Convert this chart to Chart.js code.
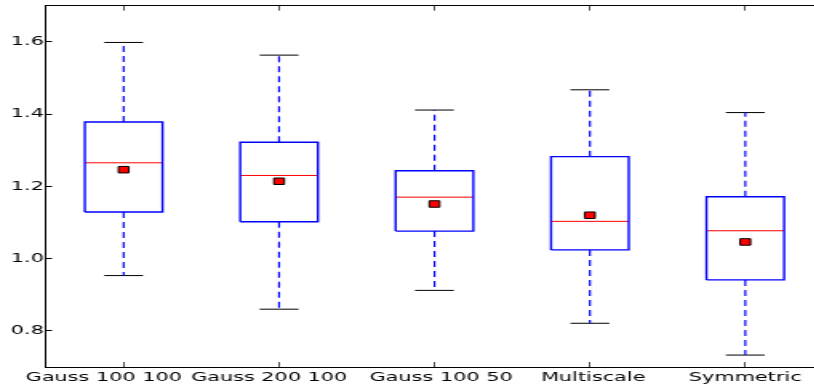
<!DOCTYPE html>
<html>
<head>
<meta charset="utf-8">
<script src="https://cdn.jsdelivr.net/npm/chart.js@4"></script>
<style>
  html, body { margin: 0; padding: 0; background: #fff; overflow: hidden; width: 814px; height: 388px; }
  /* the original picture is stretched sideways, so draw narrow and widen it */
  #wrap { width: 520px; height: 388px; transform: scaleX(1.6); transform-origin: 0 0; }
</style>
</head>
<body>
<div id="wrap"><canvas id="c" width="520" height="388"></canvas></div>
<script>
// box plot summary per method
const categories = ["Gauss 100 100", "Gauss 200 100", "Gauss 100 50", "Multiscale", "Symmetric"];
const whiskerHigh = [1.598, 1.563, 1.411, 1.467, 1.404];
const q3 = [1.378, 1.322, 1.243, 1.282, 1.171];
const median = [1.265, 1.230, 1.170, 1.103, 1.077];
const mean = [1.246, 1.214, 1.151, 1.120, 1.046];
const q1 = [1.129, 1.102, 1.076, 1.024, 0.941];
const whiskerLow = [0.953, 0.860, 0.912, 0.821, 0.733];
const yTicks = [0.8, 1.0, 1.2, 1.4, 1.6];

const BOX_HALF = 0.25, CAP_HALF = 0.125;
const BLUE = "#0000ff", RED = "#ff0000";

// helpers to turn the summary into line segments, null breaks between pieces
const gap = (x) => ({ x, y: null });
const boxPts = [], whiskPts = [], capPts = [], medPts = [];
categories.forEach((_, i) => {
  const x = i + 1;
  boxPts.push({ x: x - BOX_HALF, y: q1[i] }, { x: x + BOX_HALF, y: q1[i] }, { x: x + BOX_HALF, y: q3[i] },
    { x: x - BOX_HALF, y: q3[i] }, { x: x - BOX_HALF, y: q1[i] }, gap(x));
  whiskPts.push({ x, y: q3[i] }, { x, y: whiskerHigh[i] }, gap(x), { x, y: q1[i] }, { x, y: whiskerLow[i] }, gap(x));
  capPts.push({ x: x - CAP_HALF, y: whiskerHigh[i] }, { x: x + CAP_HALF, y: whiskerHigh[i] }, gap(x),
    { x: x - CAP_HALF, y: whiskerLow[i] }, { x: x + CAP_HALF, y: whiskerLow[i] }, gap(x));
  medPts.push({ x: x - BOX_HALF, y: median[i] }, { x: x + BOX_HALF, y: median[i] }, gap(x));
});
const meanPts = mean.map((v, i) => ({ x: i + 1, y: v }));

const seg = (data, color, width, dash) => ({
  type: "line", data, borderColor: color, borderWidth: width, borderDash: dash || [],
  pointRadius: 0, spanGaps: false, tension: 0, fill: false,
});

const font = { family: "DejaVu Sans", size: 13 };
const catTicks = (scale) => { scale.ticks = categories.map((_, i) => ({ value: i + 1 })); };
// the source's labels sit a little off their ticks; nudge them with plain spaces
const pad = [[0, 6], [0, 3], [2, 0], [1, 0], [0, 0]];
const catLabel = (v) => {
  const i = Math.round(v) - 1;
  return " ".repeat(pad[i][0]) + categories[i] + " ".repeat(pad[i][1]);
};
const noPad = (s) => { s.paddingTop = 0; s.paddingBottom = 0; s.paddingLeft = 0; s.paddingRight = 0; };

new Chart(document.getElementById("c"), {
  type: "line",
  data: {
    datasets: [
      seg(whiskPts, BLUE, 1.2, [6, 4]),
      seg(boxPts, BLUE, 1.4),
      seg(capPts, "#000", 1),
      seg(medPts, RED, 1),
      {
        type: "scatter", data: meanPts, pointStyle: "rect", pointRadius: 4.6,
        backgroundColor: RED, borderColor: "#000", borderWidth: 1, pointHoverRadius: 4.6,
      },
    ],
  },
  options: {
    responsive: false,
    animation: false,
    devicePixelRatio: 1,
    layout: { padding: { left: 0, right: 4.7, top: 0, bottom: 0 } },
    plugins: { legend: { display: false }, tooltip: { enabled: false } },
    scales: {
      x: {
        type: "linear", position: "bottom", min: 0.5, max: 5.5,
        afterBuildTicks: catTicks,
        afterFit: (s) => { s.height = 21; noPad(s); },
        ticks: { color: "#000", font, padding: 8, maxRotation: 0, autoSkip: false, callback: catLabel },
        grid: { drawOnChartArea: false, tickLength: -5, tickColor: "#000", tickWidth: 0.7 },
        border: { color: "#000", width: 1 },
      },
      xTop: {
        type: "linear", position: "top", min: 0.5, max: 5.5,
        afterBuildTicks: catTicks,
        afterFit: (s) => { s.height = 3; noPad(s); },
        ticks: { display: false },
        grid: { drawOnChartArea: false, tickLength: -5, tickColor: "#000", tickWidth: 0.7 },
        border: { color: "#000", width: 1 },
      },
      y: {
        type: "linear", position: "left", min: 0.7, max: 1.7,
        afterBuildTicks: (s) => { s.ticks = yTicks.map((v) => ({ value: v })); },
        afterFit: (s) => { s.width = 28.75; noPad(s); },
        ticks: { color: "#000", font, padding: 5, callback: (v) => v.toFixed(1) },
        grid: { drawOnChartArea: false, tickLength: -3.75, tickColor: "#000", tickWidth: 1 },
        border: { color: "#000", width: 1 },
      },
    },
  },
});
</script>
</body>
</html>
